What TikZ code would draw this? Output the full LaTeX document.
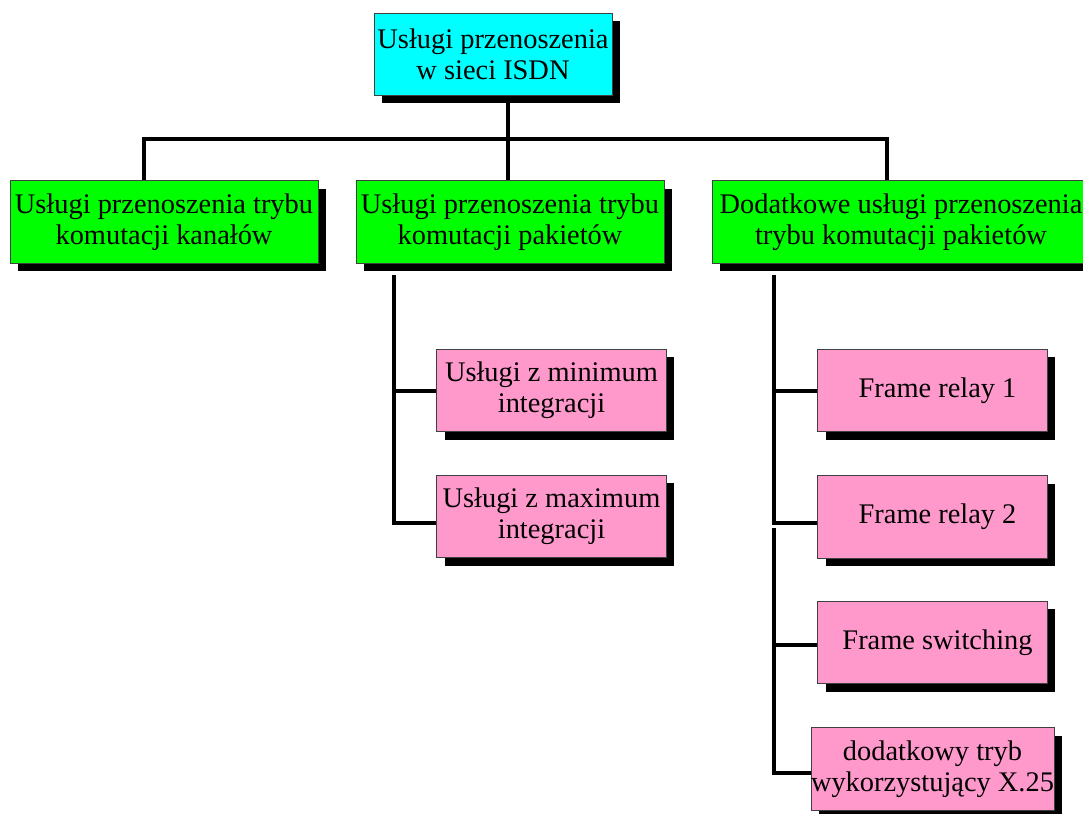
\documentclass[tikz,border=0pt]{standalone}
\usepackage{fontspec}
\setmainfont{Liberation Serif}
\usetikzlibrary{shadows,calc}
\definecolor{boxcyan}{HTML}{00FFFF}
\definecolor{boxgreen}{HTML}{00FF00}
\definecolor{boxpink}{HTML}{FF99CC}
\begin{document}
\begin{tikzpicture}[x=0.75pt,y=-0.75pt,
  box/.style={draw=black!75, line width=0.6pt, align=center, inner sep=0pt,
    font=\fontsize{21.3}{23.2}\selectfont,
    drop shadow={shadow xshift=6pt, shadow yshift=-6pt, fill=black, opacity=1}},
  topbox/.style={box, fill=boxcyan, minimum width=178.5pt, minimum height=61.5pt},
  greenbox/.style={box, fill=boxgreen, minimum width=231pt, minimum height=62pt},
  pinkbox/.style={box, fill=boxpink, minimum width=172pt, minimum height=62pt},
  conn/.style={line width=3pt, black}]
\useasboundingbox (0,0) rectangle (1083,814);
\begin{scope}
\clip (0,0) rectangle (1083,814);
\node[topbox] (top) at (493,54) {Usługi przenoszenia\\w sieci ISDN};
\node[greenbox] (g1) at (164,222) {Usługi przenoszenia trybu\\komutacji kanałów};
\node[greenbox] (g2) at (510,222) {Usługi przenoszenia trybu\\komutacji pakietów};
\node[greenbox, minimum width=283.5pt] (g3) at (901,222) {Dodatkowe usługi przenoszenia\\trybu komutacji pakietów};
\node[pinkbox] (pmin) at (551.5,390.5) {Usługi z minimum\\integracji};
\node[pinkbox] (pmax) at (551.5,516.5) {Usługi z maximum\\integracji};
\node[pinkbox] (fr1) at (932.5,390.5) {\hspace*{7.5pt}Frame relay 1};
\node[pinkbox] (fr2) at (932.5,517) {\hspace*{7.5pt}Frame relay 2};
\node[pinkbox] (fs) at (932.5,642.5) {\hspace*{7.5pt}Frame switching};
\node[pinkbox] (dod) at (932.5,769) {dodatkowy tryb\\wykorzystujący X.25};
\end{scope}
% top-level connectors
\coordinate (bus) at (508,139);
\coordinate (busL) at (144,139);
\coordinate (busR) at (887,139);
\draw[conn] ($(top.south)+(15,8)$) -- (bus);
\draw[conn] (g1.north -| busL) -- (busL) -- (busR) -- (g3.north -| busR);
\draw[conn] (bus) -- (g2.north -| bus);
% second group
\coordinate (v2top) at (394,275);
\draw[conn] (v2top) |- ($(pmax.west)+(0,6)$);
\draw[conn] (pmin.west -| v2top) -- (pmin.west);
% third group
\coordinate (v3top) at (774,275);
\coordinate (v3mid) at (774,528);
\draw[conn] (v3top) |- ($(fr2.west)+(0,6)$);
\draw[conn] (fr1.west -| v3top) -- (fr1.west);
\draw[conn] (v3mid) |- ($(dod.west)+(0,4)$);
\draw[conn] ($(fs.west -| v3mid)+(0,2.5)$) -- ($(fs.west)+(0,2.5)$);
\end{tikzpicture}
\end{document}
